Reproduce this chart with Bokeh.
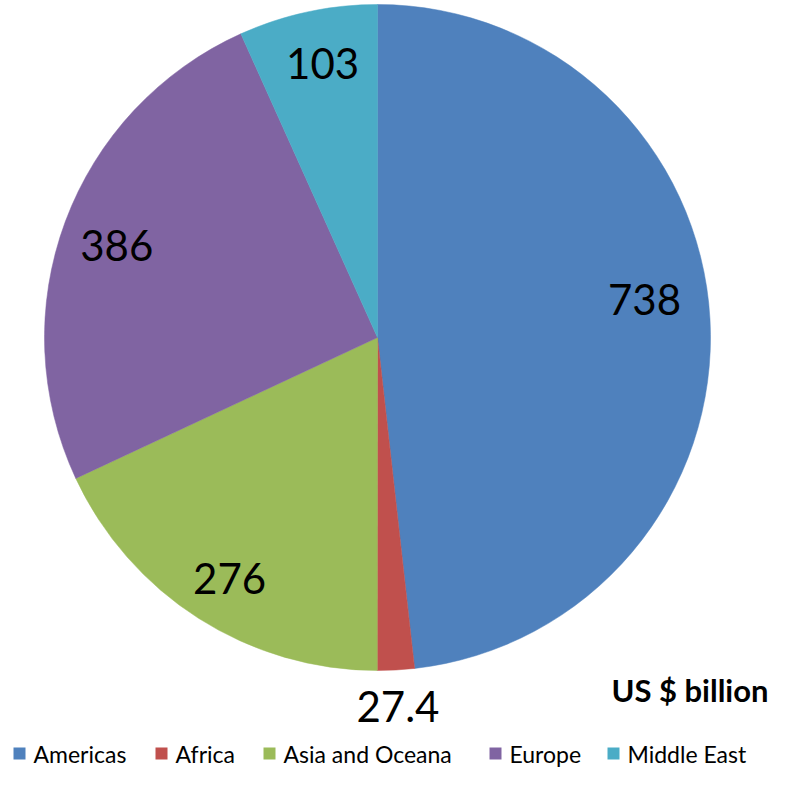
import math
from bokeh.plotting import figure
from bokeh.models import Range1d, ColumnDataSource
from bokeh.core.properties import value
from bokeh.embed import file_html
from bokeh.resources import INLINE

# ---- data ----
regions = ["Americas", "Africa", "Asia and Oceana", "Europe", "Middle East"]
values = [738, 27.4, 276, 386, 103]
value_labels = ["738", "27.4", "276", "386", "103"]
colors = ["#4F81BD", "#C0504D", "#9BBB59", "#8064A2", "#4BACC6"]

# ---- layout (pixel coords from the top-left of the figure; y flipped) ----
W, H = 772, 771
def Y(y):
    return H - y

cx, cy, r = 377, Y(337), 333
label_radius = [0.81, 1.11, 0.85, 0.83, 0.84]
label_tweak = [-5, 0, -1, -1, 0.8]

total = sum(values)
starts, ends, lx, ly = [], [], [], []
acc = 0.0
for i, v in enumerate(values):
    a0 = acc / total
    acc += v
    a1 = acc / total
    starts.append(math.pi / 2 - a0 * 2 * math.pi)
    ends.append(math.pi / 2 - a1 * 2 * math.pi)
    mid = (a0 + a1) / 2 * 360 + label_tweak[i]
    rad = math.radians(mid)
    lx.append(cx + label_radius[i] * r * math.sin(rad))
    ly.append(cy + label_radius[i] * r * math.cos(rad))

src = ColumnDataSource(dict(start=starts, end=ends, color=colors,
                            lx=lx, ly=ly, lab=value_labels, region=regions))

p = figure(width=W, height=H, output_backend="svg", toolbar_location=None,
           x_range=Range1d(0, W), y_range=Range1d(0, H),
           min_border=0, outline_line_color=None)
p.axis.visible = False
p.grid.visible = False
p.background_fill_color = "white"

p.wedge(x=cx, y=cy, radius=r, start_angle="start", end_angle="end",
        direction="clock", fill_color="color", line_color="color",
        line_width=0.5, source=src)

p.text(x="lx", y="ly", text="lab", source=src, text_font=value("Lato"),
       text_font_size="42px", text_align="center", text_baseline="middle",
       text_color="black")

p.text(x=[768], y=[Y(689)], text=["US $ billion"], text_font=value("Lato"),
       text_font_size="31px", text_font_style="bold", text_align="right",
       text_baseline="middle", text_color="black")

# legend
ly_leg = Y(753)
sq_x = [19, 161, 269, 495, 613]
p.rect(x=sq_x, y=[ly_leg] * 5, width=12, height=12, fill_color=colors,
       line_color=None)
p.text(x=[x + 14 for x in sq_x], y=[ly_leg] * 5, text=regions,
       text_font=value("Lato"), text_font_size="23px", text_align="left",
       text_baseline="middle", text_color="black")

open("out.html", "w").write(file_html(p, INLINE))
